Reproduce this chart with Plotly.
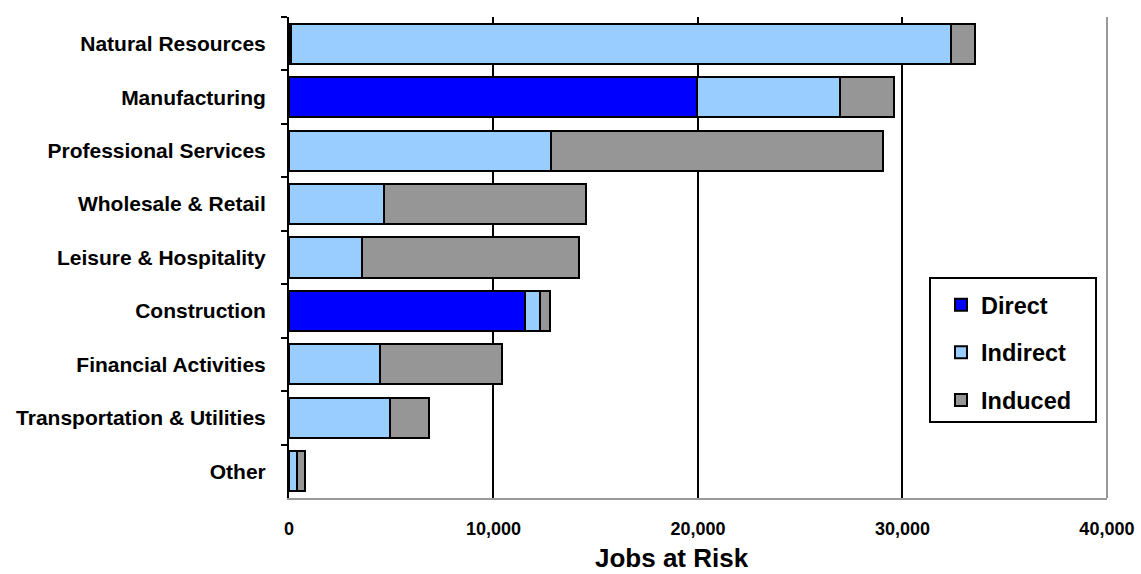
import plotly.graph_objects as go

# Industries, top to bottom
sectors = [
    "Natural Resources",
    "Manufacturing",
    "Professional Services",
    "Wholesale & Retail",
    "Leisure & Hospitality",
    "Construction",
    "Financial Activities",
    "Transportation & Utilities",
    "Other",
]

# Jobs at risk by effect type
direct = [120, 19950, 0, 0, 0, 11560, 0, 0, 0]
indirect = [32250, 7010, 12800, 4630, 3560, 730, 4430, 4920, 390]
induced = [1200, 2640, 16230, 9890, 10620, 490, 6000, 1920, 410]

x_ticks = [0, 10000, 20000, 30000, 40000]
x_max = 40000

FONT = "Liberation Sans, Arial, sans-serif"

series = [
    ("Direct", direct, "#0000FF"),
    ("Indirect", indirect, "#99CCFF"),
    ("Induced", induced, "#969696"),
]

fig = go.Figure()
for name, vals, color in series:
    fig.add_trace(
        go.Bar(
            name=name,
            y=sectors,
            x=vals,
            orientation="h",
            legendgroup=name,
            marker=dict(color=color, line=dict(color="black", width=2)),
        )
    )

# plot-area geometry in pixels, used to place the legend frame and the axis title
W, H = 1141, 574
ML, MR, MT, MB = 289, 34, 17, 76
PW, PH = W - ML - MR, H - MT - MB


def px_x(p):
    return (p - ML) / PW


def px_y(p):
    return (H - MB - p) / PH


fig.update_layout(
    width=W,
    height=H,
    barmode="stack",
    bargap=0.25,
    plot_bgcolor="white",
    paper_bgcolor="white",
    margin=dict(l=ML, r=MR, t=MT, b=MB, autoexpand=False),
    font=dict(family=FONT, color="black"),
    showlegend=True,
    legend=dict(
        x=px_x(941),
        y=px_y(283),
        xanchor="left",
        yanchor="top",
        traceorder="grouped",
        tracegroupgap=14,
        bgcolor="rgba(0,0,0,0)",
        borderwidth=0,
        font=dict(family=FONT, size=23.5, weight="bold", color="black"),
    ),
    xaxis=dict(
        range=[0, x_max + 5],
        tickvals=x_ticks,
        tickformat=",",
        side="bottom",
        automargin=False,
        showgrid=True,
        gridcolor="black",
        gridwidth=2,
        showline=True,
        linecolor="#999999",
        linewidth=2,
        ticks="",
        ticklabelstandoff=13,
        tickfont=dict(family=FONT, size=18, weight="bold", color="black"),
        zeroline=False,
    ),
    xaxis2=dict(
        overlaying="x",
        side="top",
        range=[0, x_max + 5],
        tickvals=x_ticks,
        automargin=False,
        showticklabels=False,
        showgrid=False,
        zeroline=False,
        showline=True,
        linecolor="black",
        linewidth=2,
        ticks="outside",
        ticklen=6,
        tickwidth=2,
        tickcolor="black",
    ),
    yaxis=dict(
        categoryorder="array",
        categoryarray=sectors,
        autorange="reversed",
        automargin=False,
        showgrid=False,
        zeroline=False,
        showline=True,
        linecolor="black",
        linewidth=2,
        ticks="outside",
        tickson="boundaries",
        ticklen=6,
        tickwidth=2,
        tickcolor="black",
        ticklabelstandoff=17,
        tickfont=dict(family=FONT, size=21, weight="bold", color="black"),
    ),
    shapes=[
        # right border of the plot area
        dict(
            type="line",
            xref="paper",
            yref="paper",
            x0=1,
            x1=1,
            y0=0,
            y1=1,
            line=dict(color="#999999", width=2),
        ),
        # legend frame
        dict(
            type="rect",
            xref="paper",
            yref="paper",
            x0=px_x(930),
            x1=px_x(1096),
            y0=px_y(422),
            y1=px_y(278),
            fillcolor="white",
            line=dict(color="black", width=2),
            layer="above",
        ),
    ],
    annotations=[
        dict(
            text="Jobs at Risk",
            xref="paper",
            yref="paper",
            x=px_x(672),
            y=px_y(558),
            xanchor="center",
            yanchor="middle",
            showarrow=False,
            font=dict(family=FONT, size=26, weight="bold", color="black"),
        )
    ],
)

fig.write_html("out.html")
